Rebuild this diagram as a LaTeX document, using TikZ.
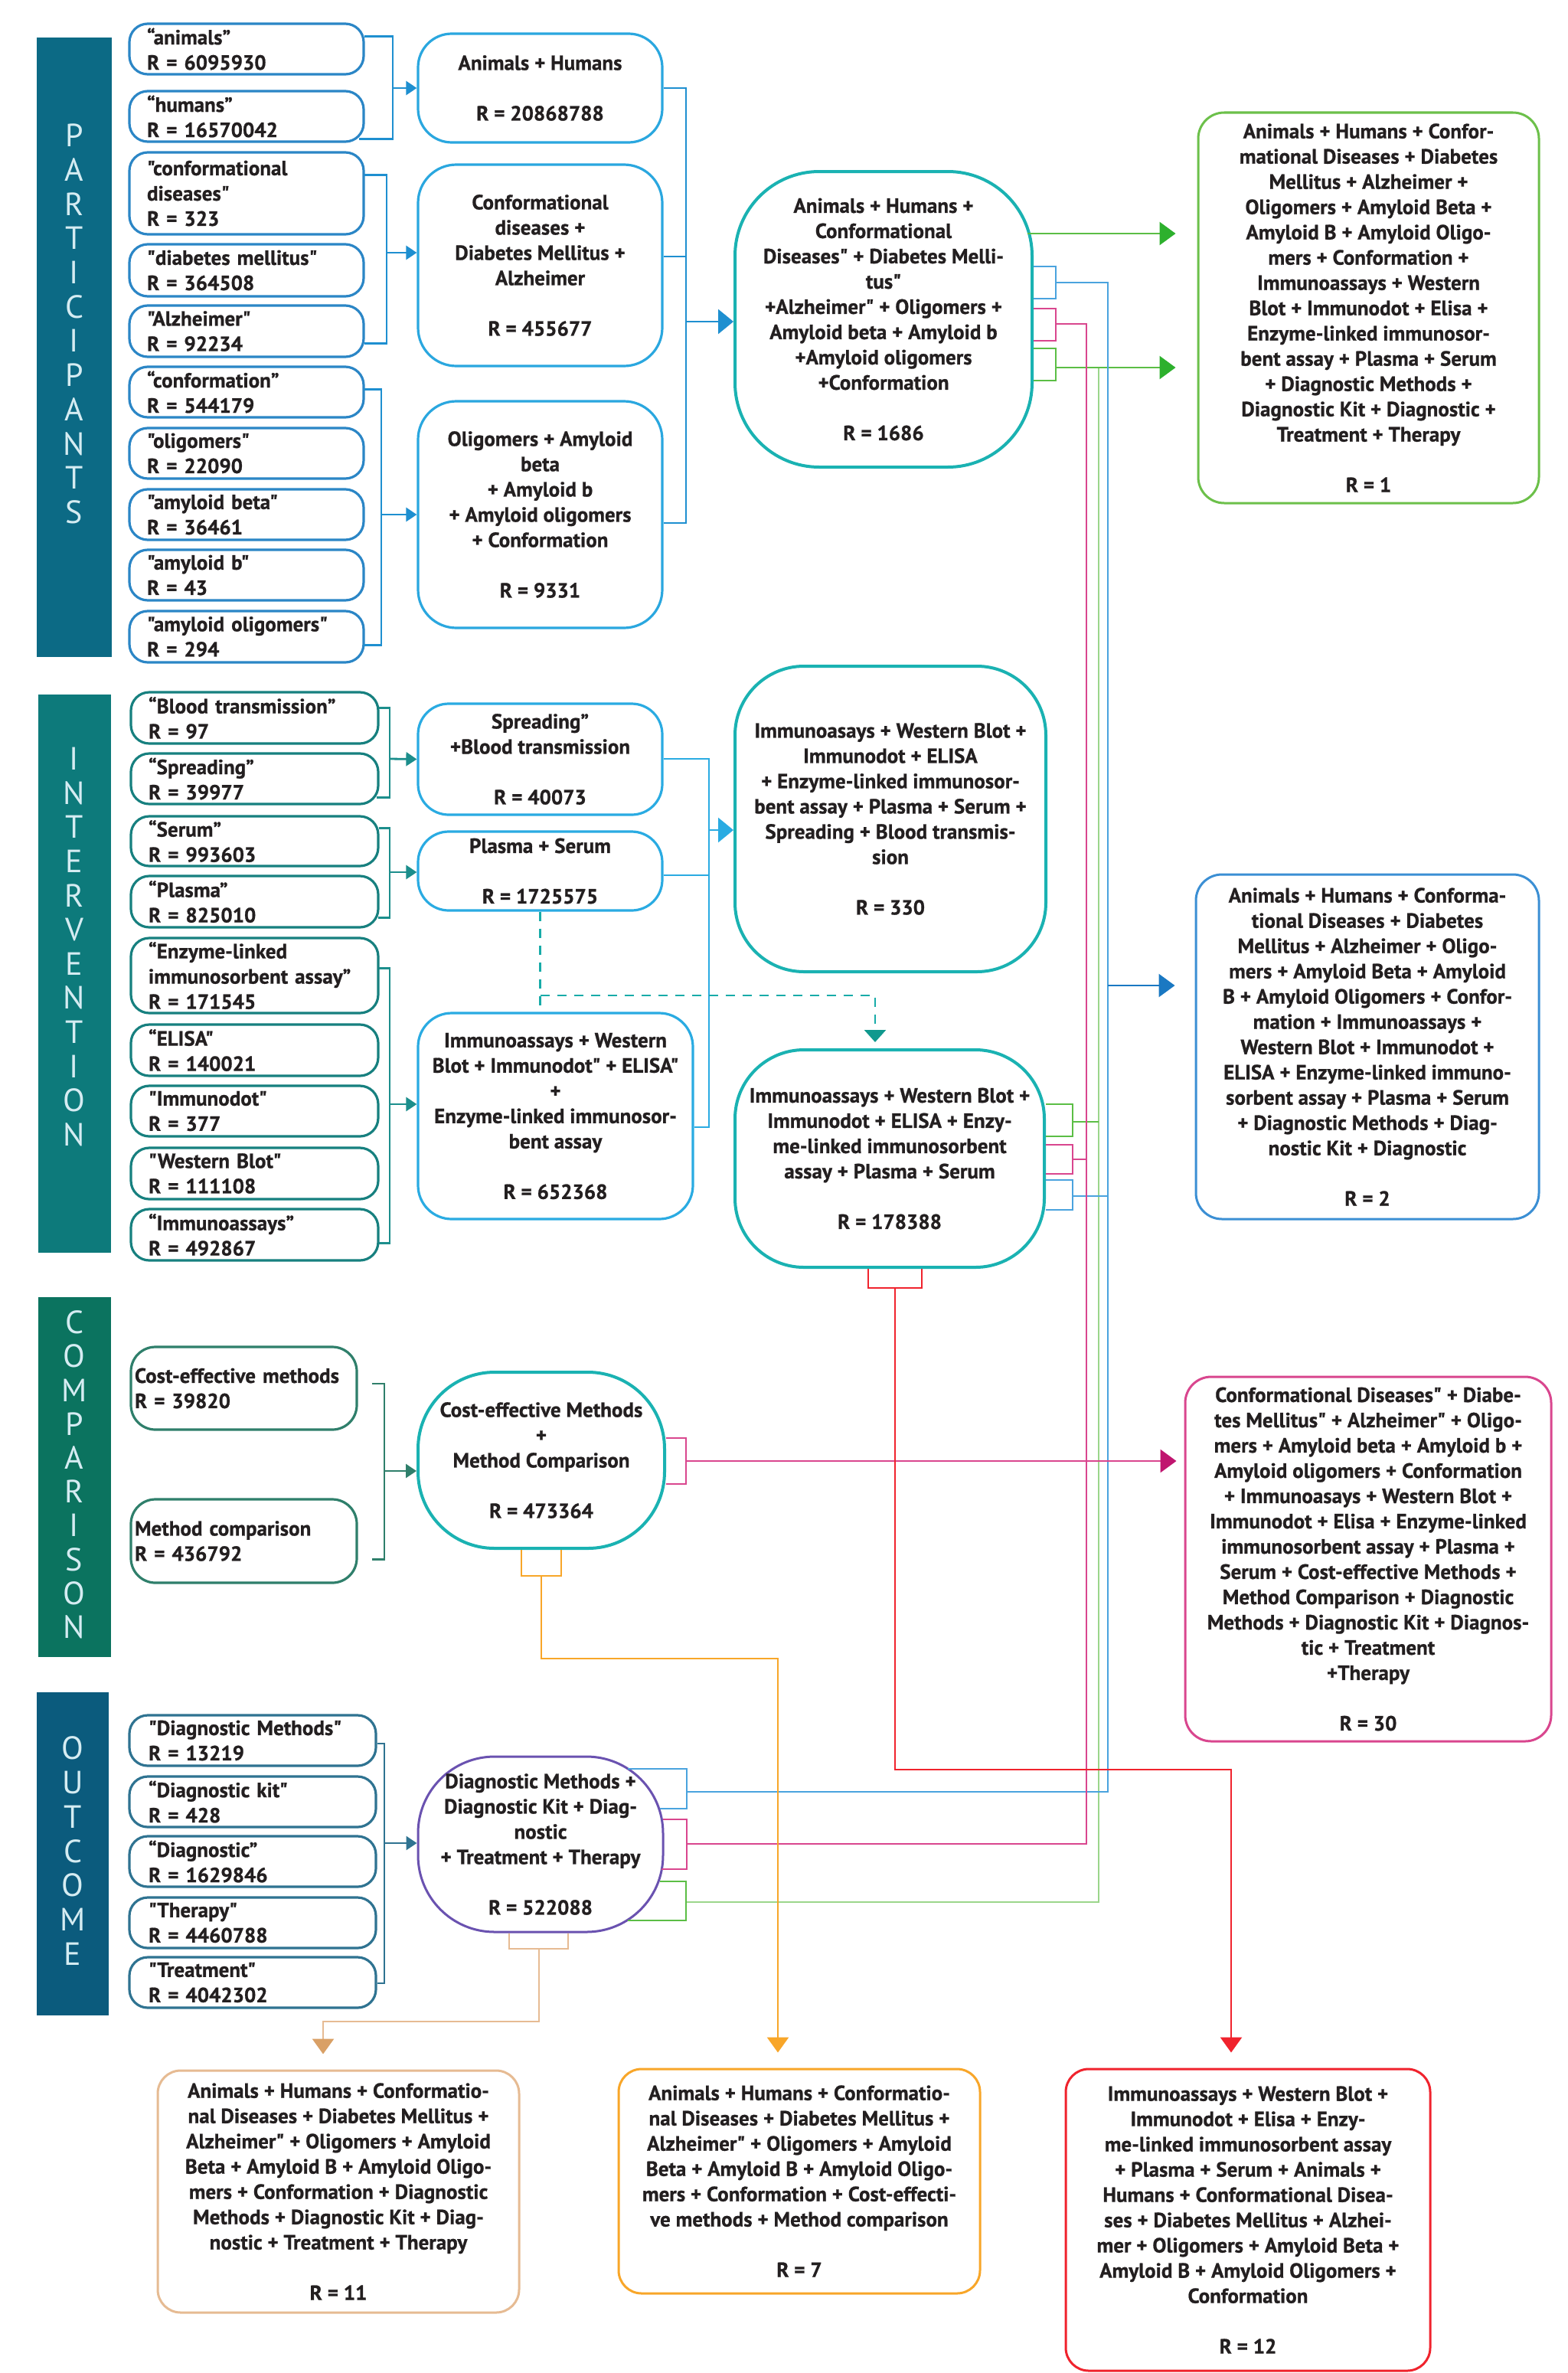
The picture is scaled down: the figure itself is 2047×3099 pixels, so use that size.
\documentclass[tikz,border=0pt]{standalone}
\usepackage{fontspec}
\setmainfont{PT Sans}[Ligatures=TeXOff,BoldFeatures={FakeBold=0.8}]
\usetikzlibrary{arrows.meta,calc}
\definecolor{txt}{HTML}{231F20}
\definecolor{pbarc}{HTML}{0C6A85}
\definecolor{ibarc}{HTML}{0D7A7B}
\definecolor{cbarc}{HTML}{0B735F}
\definecolor{obarc}{HTML}{0B5B7D}
\definecolor{pS}{HTML}{2B86C6}
\definecolor{pM}{HTML}{2AA7DF}
\definecolor{pC}{HTML}{1E8FD0}
\definecolor{iS}{HTML}{17807F}
\definecolor{iC}{HTML}{1C8E8C}
\definecolor{iM}{HTML}{2AABE2}
\definecolor{tealc}{HTML}{1AB2B2}
\definecolor{cS}{HTML}{2F7F6B}
\definecolor{oS}{HTML}{2F7391}
\definecolor{purp}{HTML}{6A52B0}
\definecolor{grnbox}{HTML}{6CC04A}
\definecolor{grnarr}{HTML}{2DB02D}
\definecolor{grnlt}{HTML}{9BD68B}
\definecolor{grnln}{HTML}{5BBE45}
\definecolor{blubox}{HTML}{3B8FD4}
\definecolor{bluln}{HTML}{4AA3DE}
\definecolor{bluarr}{HTML}{1A78C2}
\definecolor{pnk}{HTML}{D9468E}
\definecolor{pnkarr}{HTML}{C0156F}
\definecolor{redc}{HTML}{F0232D}
\definecolor{orng}{HTML}{F8A629}
\definecolor{tanc}{HTML}{E6BB93}
\definecolor{tanarr}{HTML}{D9A066}
\definecolor{dashc}{HTML}{17ABA8}
\definecolor{dasharr}{HTML}{10998E}
\definecolor{barlet}{HTML}{D5ECF2}
\tikzset{
 base/.style={draw, line width=1.6pt, inner sep=0pt, text=txt, font=\fontsize{13.5}{16.5}\selectfont\bfseries, align=center},
 smb/.style={base, rounded corners=12pt, align=left},
 midb/.style={base, rounded corners=22pt, draw=pM},
 bigb/.style={base, draw=tealc, line width=2pt},
 outb/.style={base, rounded corners=17pt, line width=1.5pt},
 barb/.style={draw=none, inner sep=0pt},
 barl/.style={text=barlet, font=\fontsize{21}{21}\selectfont, inner sep=0pt},
 conn/.style={line width=1.4pt},
 sarr/.style={-{Triangle[length=7pt,width=9pt]}},
 barr/.style={-{Triangle[length=10pt,width=16pt]}},
}
\newcommand\mybox[7]{%
 \pgfmathsetmacro\bxw{(#4-#2)*0.5}%
 \pgfmathsetmacro\bxh{(#5-#3)*0.5}%
 \pgfmathsetmacro\bxx{(#2+#4)/2}%
 \pgfmathsetmacro\bxy{(#3+#5)/2}%
 \node[#6,minimum width=\bxw pt,minimum height=\bxh pt] (#1) at (\bxx,\bxy) {#7};}
\newcommand\kwbox[8]{%
 \pgfmathsetmacro\bxw{(#4-#2)*0.5}%
 \pgfmathsetmacro\bxh{(#5-#3)*0.5}%
 \pgfmathsetmacro\bxt{(#4-#2)*0.5-#7}%
 \pgfmathsetmacro\bxx{(#2+#4)/2}%
 \pgfmathsetmacro\bxy{(#3+#5)/2}%
 \node[#6,minimum width=\bxw pt,minimum height=\bxh pt,text width=\bxt pt] (#1) at (\bxx,\bxy) {#8};}
\begin{document}
\begin{tikzpicture}[x=0.5pt,y=-0.5pt]
\useasboundingbox (0,0) rectangle (2047,3099);
\fill[white] (0,0) rectangle (2047,3099);

% ---------- section bars ----------
\mybox{pbar}{48}{49}{146}{858}{barb,fill=pbarc}{}
\mybox{ibar}{50}{907}{145}{1636}{barb,fill=ibarc}{}
\mybox{cbar}{50}{1694}{145}{2164}{barb,fill=cbarc}{}
\mybox{obar}{48}{2210}{142}{2632}{barb,fill=obarc}{}
\foreach \l [count=\i] in {P,A,R,T,I,C,I,P,A,N,T,S} \node[barl] (pl\i) at (97,{177+(\i-1)*44.7}) {\l};
\foreach \l [count=\i] in {I,N,T,E,R,V,E,N,T,I,O,N} \node[barl] (il\i) at (97,{991+(\i-1)*44.6}) {\l};
\foreach \l [count=\i] in {C,O,M,P,A,R,I,S,O,N} \node[barl] (cl\i) at (97,{1727+(\i-1)*44.2}) {\l};
\foreach \l [count=\i] in {O,U,T,C,O,M,E} \node[barl] (ol\i) at (95,{2283+(\i-1)*44.8}) {\l};

% ---------- participants ----------
\kwbox{p1}{169}{31}{475}{97}{smb,draw=pS}{23}{“animals”\\R = 6095930}
\kwbox{p2}{169}{119}{475}{185}{smb,draw=pS}{23}{“humans”\\R = 16570042}
\kwbox{p3}{169}{199}{475}{306}{smb,draw=pS}{23}{"conformational\\diseases"\\R = 323}
\kwbox{p4}{169}{319}{475}{387}{smb,draw=pS}{23}{"diabetes mellitus"\\R = 364508}
\kwbox{p5}{169}{399}{475}{466}{smb,draw=pS}{23}{"Alzheimer"\\R = 92234}
\kwbox{p6}{169}{479}{475}{545}{smb,draw=pS}{23}{“conformation”\\R = 544179}
\kwbox{p7}{169}{559}{475}{625}{smb,draw=pS}{23}{"oligomers"\\R = 22090}
\kwbox{p8}{169}{639}{475}{705}{smb,draw=pS}{23}{"amyloid beta"\\R = 36461}
\kwbox{p9}{169}{718}{475}{784}{smb,draw=pS}{23}{"amyloid b"\\R = 43}
\kwbox{p10}{169}{798}{475}{865}{smb,draw=pS}{23}{"amyloid oligomers"\\R = 294}

\mybox{A}{546}{44}{865}{186}{midb}{Animals + Humans\\[16.5pt]R = 20868788}
\mybox{B}{546}{215}{865}{478}{midb,rounded corners=25pt}{Conformational\\diseases +\\Diabetes Mellitus +\\Alzheimer\\[16.5pt]R = 455677}
\mybox{C}{546}{524}{865}{820}{midb,rounded corners=25pt}{Oligomers + Amyloid\\beta\\+ Amyloid b\\+ Amyloid oligomers\\+ Conformation\\[16.5pt]R = 9331}

\mybox{D}{960}{224}{1348}{610}{bigb,rounded corners=55pt}{Animals + Humans +\\Conformational\\Diseases" + Diabetes Melli-\\tus"\\+Alzheimer" + Oligomers +\\Amyloid beta + Amyloid b\\+Amyloid oligomers\\+Conformation\\[16.5pt]R = 1686}

\mybox{E}{1565}{147}{2010}{657}{outb,draw=grnbox}{Animals + Humans + Confor-\\mational Diseases + Diabetes\\Mellitus + Alzheimer +\\Oligomers + Amyloid Beta +\\Amyloid B + Amyloid Oligo-\\mers + Conformation +\\Immunoassays + Western\\Blot + Immunodot + Elisa +\\Enzyme-linked immunosor-\\bent assay + Plasma + Serum\\+ Diagnostic Methods +\\Diagnostic Kit + Diagnostic +\\Treatment + Therapy\\[16.5pt]R = 1}

% participants connectors
\draw[conn,draw=pC] ($(p1.north east)+(-1,18)$) -| (513,115) |- ($(p2.south east)+(-8,-5)$);
\draw[conn,draw=pC,sarr] (513,115) -- (A.west);
\draw[conn,draw=pC] ($(p3.north east)+(-1,31)$) -| (505,330) |- ($(p5.south east)+(-1,-19)$);
\draw[conn,draw=pC,sarr] (505,330) -- (B.west |- 0,330);
\draw[conn,draw=pC] ($(p6.north east)+(-1,31)$) -| (498,672) |- ($(p10.south east)+(-2,-24)$);
\draw[conn,draw=pC,sarr] (498,672) -- (C.west);
\draw[conn,draw=pC] (A.east |- 0,115) -| (896,420) |- (C.east |- 0,683);
\draw[conn,draw=pC] (B.east |- 0,335) -- (896,335);
\draw[conn,draw=pC,barr] (896,420) -- (D.west |- 0,420);

% ---------- intervention ----------
\kwbox{i1}{171}{904}{494}{971}{smb,draw=iS}{23}{“Blood transmission”\\R = 97}
\kwbox{i2}{171}{984}{494}{1050}{smb,draw=iS}{23}{“Spreading”\\R = 39977}
\kwbox{i3}{171}{1066}{494}{1131}{smb,draw=iS}{23}{“Serum”\\R = 993603}
\kwbox{i4}{171}{1144}{494}{1211}{smb,draw=iS}{23}{“Plasma”\\R = 825010}
\kwbox{i5}{171}{1225}{494}{1323}{smb,draw=iS}{23}{“Enzyme-linked\\immunosorbent assay”\\R = 171545}
\kwbox{i6}{171}{1338}{494}{1405}{smb,draw=iS}{23}{“ELISA"\\R = 140021}
\kwbox{i7}{171}{1418}{494}{1484}{smb,draw=iS}{23}{"Immunodot"\\R = 377}
\kwbox{i8}{171}{1499}{494}{1566}{smb,draw=iS}{23}{"Western Blot"\\R = 111108}
\kwbox{i9}{171}{1579}{494}{1646}{smb,draw=iS}{23}{“Immunoassays”\\R = 492867}

\mybox{S}{546}{919}{865}{1064}{midb,draw=iM,rounded corners=20pt}{Spreading”\\+Blood transmission\\[16.5pt]R = 40073}
\mybox{PS}{546}{1086}{865}{1189}{midb,draw=iM,rounded corners=20pt}{Plasma + Serum\\[16.5pt]R = 1725575}
\mybox{IM}{546}{1323}{905}{1592}{midb,draw=iM,rounded corners=22pt}{Immunoassays + Western\\Blot + Immunodot" + ELISA"\\+\\Enzyme-linked immunosor-\\bent assay\\[16.5pt]R = 652368}

\mybox{H}{960}{870}{1366}{1269}{bigb,rounded corners=45pt}{Immunoasays + Western Blot +\\Immunodot + ELISA\\+ Enzyme-linked immunosor-\\bent assay + Plasma + Serum +\\Spreading + Blood transmis-\\sion\\[16.5pt]R = 330}
\mybox{F}{960}{1371}{1364}{1655}{bigb,rounded corners=45pt}{Immunoassays + Western Blot +\\Immunodot + ELISA + Enzy-\\me-linked immunosorbent\\assay + Plasma + Serum\\[16.5pt]R = 178388}

\mybox{G}{1562}{1142}{2010}{1592}{outb,draw=blubox}{Animals + Humans + Conforma-\\tional Diseases + Diabetes\\Mellitus + Alzheimer + Oligo-\\mers + Amyloid Beta + Amyloid\\B + Amyloid Oligomers + Confor-\\mation + Immunoassays +\\Western Blot + Immunodot +\\ELISA + Enzyme-linked immuno-\\sorbent assay + Plasma + Serum\\+ Diagnostic Methods + Diag-\\nostic Kit + Diagnostic\\[16.5pt]R = 2}

% intervention connectors
\draw[conn,draw=iC] ($(i1.north east)+(-1,22)$) -| (509,991) |- ($(i2.south east)+(-4,-10)$);
\draw[conn,draw=iC,sarr] (509,991) -- (S.west);
\draw[conn,draw=iC] ($(i3.north east)+(-1,17)$) -| (509,1139) |- ($(i4.south east)+(-2,-14)$);
\draw[conn,draw=iC,sarr] (509,1139) -- (PS.west |- 0,1139);
\draw[conn,draw=iC] ($(i5.north east)+(-1,41)$) -| (509,1442) |- ($(i9.south east)+(-1,-24)$);
\draw[conn,draw=iC,sarr] (509,1442) -- (IM.west |- 0,1442);
\draw[conn,draw=iM] (S.east |- 0,991) -| (926,1084) |- (IM.east |- 0,1472);
\draw[conn,draw=iM] (PS.east |- 0,1143) -- (926,1143);
\draw[conn,draw=iM,barr] (926,1084) -- (H.west |- 0,1084);
\draw[conn,draw=dashc,dash pattern=on 6pt off 5pt] (PS.south) -- (PS.south |- IM.north);
\draw[conn,draw=dashc,dash pattern=on 6pt off 5pt,-{Triangle[length=8pt,width=14pt,color=dasharr]},shorten >=4pt]
  (PS.south |- 0,1300) -- (1143,1300) -- (F.north -| 1143,0);

% ---------- comparison ----------
\kwbox{c1}{171}{1759}{466}{1867}{smb,draw=cS,rounded corners=16pt}{5}{\mbox{Cost-effective methods}\\R = 39820}
\kwbox{c2}{171}{1958}{466}{2067}{smb,draw=cS,rounded corners=16pt}{5}{Method comparison\\R = 436792}
\mybox{CM}{546}{1792}{868}{2022}{bigb,rounded corners=50pt}{Cost-effective Methods\\+\\Method Comparison\\[16.5pt]R = 473364}
\mybox{I}{1548}{1798}{2026}{2274}{outb,draw=pnk}{Conformational Diseases" + Diabe-\\tes Mellitus" + Alzheimer" + Oligo-\\mers + Amyloid beta + Amyloid b +\\Amyloid oligomers + Conformation\\+ Immunoasays + Western Blot +\\Immunodot + Elisa + Enzyme-linked\\immunosorbent assay + Plasma +\\Serum + Cost-effective Methods +\\Method Comparison + Diagnostic\\Methods + Diagnostic Kit + Diagnos-\\tic + Treatment\\+Therapy\\[16.5pt]R = 30}

\draw[conn,draw=cS] ($(c1.east)+(18,-6)$) -| (502,1921) |- ($(c2.east)+(18,24)$);
\draw[conn,draw=cS,sarr] (502,1921) -- (CM.west |- 0,1921);

% ---------- outcome ----------
\kwbox{o1}{169}{2240}{491}{2306}{smb,draw=oS}{25}{"Diagnostic Methods"\\R = 13219}
\kwbox{o2}{169}{2320}{491}{2386}{smb,draw=oS}{25}{“Diagnostic kit"\\R = 428}
\kwbox{o3}{169}{2398}{491}{2464}{smb,draw=oS}{25}{“Diagnostic”\\R = 1629846}
\kwbox{o4}{169}{2478}{491}{2544}{smb,draw=oS}{25}{"Therapy"\\R = 4460788}
\kwbox{o5}{169}{2556}{491}{2622}{smb,draw=oS}{25}{"Treatment"\\R = 4042302}
\mybox{PN}{546}{2294}{866}{2523}{base,draw=purp,line width=1.5pt,rounded corners=50pt}{Diagnostic Methods +\\Diagnostic Kit + Diag-\\nostic\\+ Treatment + Therapy\\[16.5pt]R = 522088}
\draw[conn,draw=oS] (o1.east |- 0,2277) -| (502,2407) |- (o5.east |- 0,2590);
\draw[conn,draw=oS,sarr] (502,2407) -- (PN.west |- 0,2407);

% ---------- bottom result boxes ----------
\mybox{TB}{206}{2704}{678}{3020}{outb,draw=tanc,rounded corners=15pt}{Animals + Humans + Conformatio-\\nal Diseases + Diabetes Mellitus +\\Alzheimer" + Oligomers + Amyloid\\Beta + Amyloid B + Amyloid Oligo-\\mers + Conformation + Diagnostic\\Methods + Diagnostic Kit + Diag-\\nostic + Treatment + Therapy\\[16.5pt]R = 11}
\mybox{OB}{808}{2702}{1280}{2995}{outb,draw=orng,rounded corners=15pt}{Animals + Humans + Conformatio-\\nal Diseases + Diabetes Mellitus +\\Alzheimer" + Oligomers + Amyloid\\Beta + Amyloid B + Amyloid Oligo-\\mers + Conformation + Cost-effecti-\\ve methods + Method comparison\\[16.5pt]R = 7}
\mybox{RB}{1392}{2702}{1868}{3096}{outb,draw=redc,rounded corners=15pt}{Immunoassays + Western Blot +\\Immunodot + Elisa + Enzy-\\me-linked immunosorbent assay\\+ Plasma + Serum + Animals +\\Humans + Conformational Disea-\\ses + Diabetes Mellitus + Alzhei-\\mer + Oligomers + Amyloid Beta +\\Amyloid B + Amyloid Oligomers +\\Conformation\\[16.5pt]R = 12}

% ---------- coloured result connectors ----------
% green
\draw[conn,draw=grnln,-{Triangle[length=10.5pt,width=15pt,color=grnarr]},shorten >=14pt] (1342,305) -- (E.west |- 0,305);
\draw[conn,draw=grnln] (D.east |- 0,455) -| (1379,480) |- (D.east |- 0,497);
\draw[conn,draw=grnlt] (1435,480) -- (1435,2484) -- (896,2484);
\draw[conn,draw=grnln,-{Triangle[length=10.5pt,width=15pt,color=grnarr]},shorten >=14pt] (1379,480) -- (E.west |- 0,480);
\draw[conn,draw=grnln] (F.east |- 0,1442) -| (1401,1465) |- (F.east |- 0,1484);
\draw[conn,draw=grnln] (1401,1465) -- (1435,1465);
\draw[conn,draw=grnln] (862,2457) -- (896,2457) -- (896,2508) -- (820,2508);
% blue
\draw[conn,draw=bluln] (D.east |- 0,348) -| (1379,369) |- (D.east |- 0,390);
\draw[conn,draw=bluln] (1379,369) -- (1447,369) -- (1447,2340) -- (897,2340);
\draw[conn,draw=bluln] (F.east |- 0,1541) -| (1401,1562) |- (F.east |- 0,1580);
\draw[conn,draw=bluln] (1401,1562) -- (1447,1562);
\draw[conn,draw=bluln] (820,2310) -- (897,2310) -- (897,2362) -- (862,2362);
\draw[conn,draw=bluarr,-{Triangle[length=10.5pt,width=15pt,color=bluarr]},shorten >=13pt] (1447,1287) -- (G.west |- 0,1287);
% pink
\draw[conn,draw=pnk] (D.east |- 0,403) -| (1379,423) |- (D.east |- 0,445);
\draw[conn,draw=pnk] (1379,423) -- (1419,423) -- (1419,2408) -- (897,2408);
\draw[conn,draw=pnk] (F.east |- 0,1495) -| (1401,1514) |- (F.east |- 0,1533);
\draw[conn,draw=pnk] (1401,1514) -- (1419,1514);
\draw[conn,draw=pnk] (866,2376) -- (897,2376) -- (897,2441) -- (864,2441);
\draw[conn,draw=pnk] (CM.east |- 0,1878) -| (896,1908) |- (CM.east |- 0,1938);
\draw[conn,draw=pnk,-{Triangle[length=10.5pt,width=15pt,color=pnkarr]},shorten >=5pt] (896,1908) -- (I.west |- 0,1908);
% orange
\draw[conn,draw=orng] (CM.south -| 681,0) |- (733,2058) -- (CM.south -| 733,0);
\draw[conn,draw=orng,-{Triangle[length=10pt,width=14pt]},shorten >=10pt] (707,2058) -- (707,2166) -- (1016,2166) -- (OB.north -| 1016,0);
% red
\draw[conn,draw=redc] (F.south -| 1134,0) |- (1204,1682) -- (F.south -| 1204,0);
\draw[conn,draw=redc,-{Triangle[length=10pt,width=14pt]},shorten >=10pt] (1169,1682) -- (1169,2311) -- (1608,2311) -- (RB.north -| 1608,0);
% tan
\draw[conn,draw=tanc] (PN.south -| 665,0) |- (742,2545) -- (PN.south -| 742,0);
\draw[conn,draw=tanc,-{Triangle[length=10pt,width=14pt,color=tanarr]},shorten >=10pt] (704,2545) -- (704,2640) -- (422,2640) -- (TB.north -| 422,0);
\end{tikzpicture}
\end{document}
